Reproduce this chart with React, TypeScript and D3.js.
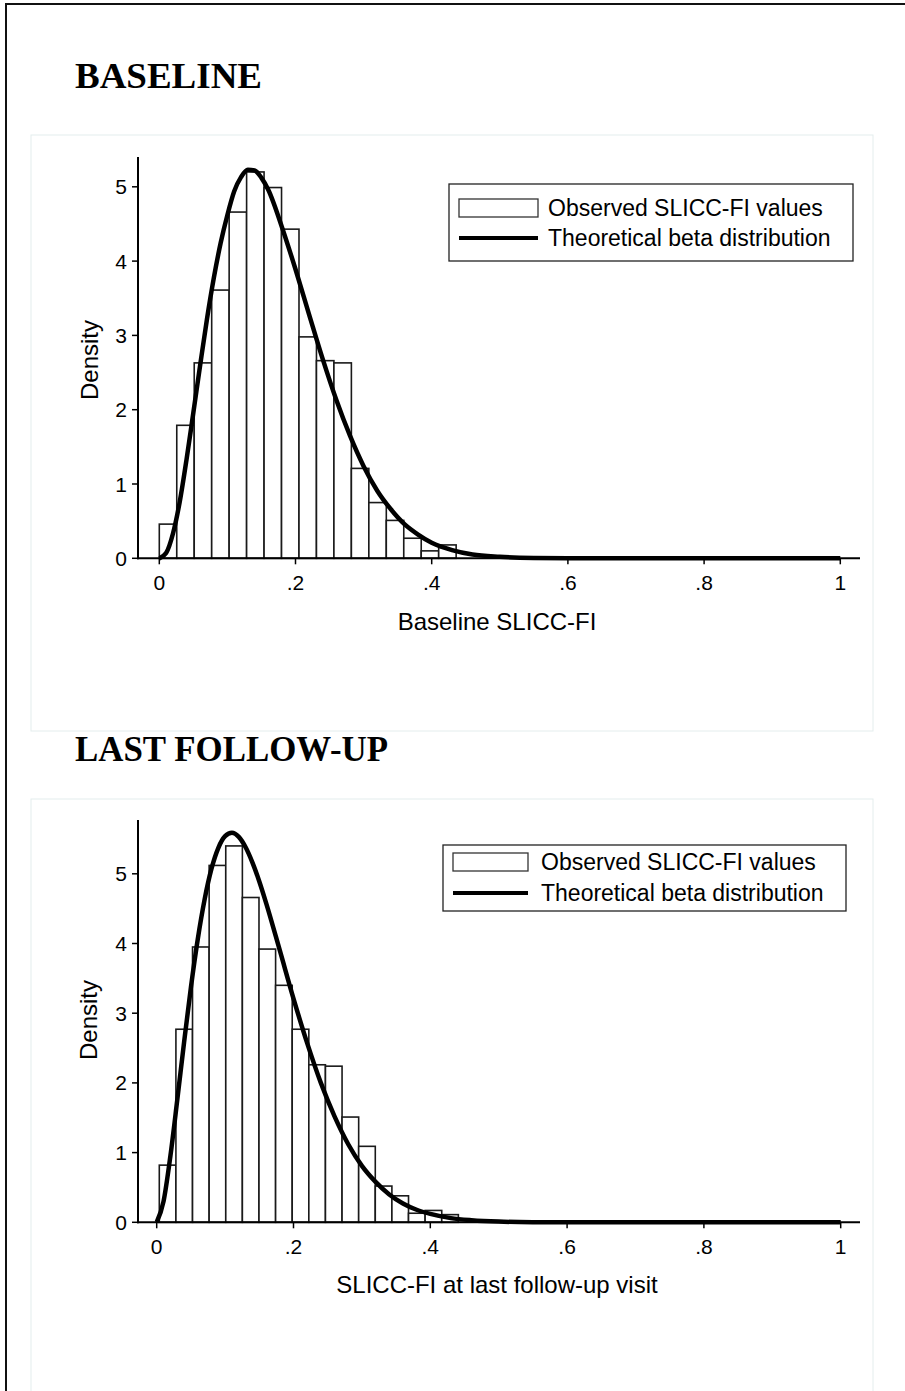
import React from "react";
import * as d3 from "d3";

// ---------- DATA ----------
const panelTitles = ["BASELINE", "LAST FOLLOW-UP"];
const xAxisTitles = ["Baseline SLICC-FI", "SLICC-FI at last follow-up visit"];
const yAxisTitle = "Density";
const legendLabels = ["Observed SLICC-FI values", "Theoretical beta distribution"];
const xTickValues = [0, 0.2, 0.4, 0.6, 0.8, 1];
const xTickLabels = ["0", ".2", ".4", ".6", ".8", "1"];
const yTickValues = [0, 1, 2, 3, 4, 5];

// Baseline histogram (density per bin)
const baselineBinStart = 0;
const baselineBinWidth = 1 / 39;
const baselineDensity = [0.46, 1.79, 2.63, 3.61, 4.66, 5.2, 4.99, 4.43, 2.98, 2.66, 2.63, 1.21, 0.75, 0.51, 0.27, 0.1, 0.18];

// Last follow-up histogram
const followupBinStart = 0.0038;
const followupBinWidth = 0.02429;
const followupDensity = [0.82, 2.77, 3.95, 5.12, 5.4, 4.66, 3.92, 3.4, 2.77, 2.26, 2.24, 1.51, 1.09, 0.52, 0.38, 0.13, 0.17, 0.11];

// Theoretical beta curves
const curveX = [0, 0.01, 0.02, 0.03, 0.04, 0.05, 0.06, 0.07, 0.08, 0.09, 0.1, 0.11, 0.12, 0.13, 0.14, 0.15, 0.16, 0.18, 0.2, 0.22, 0.24, 0.26, 0.28, 0.3, 0.32, 0.34, 0.36, 0.38, 0.4, 0.43, 0.46, 0.5, 0.55, 0.6, 0.7, 0.8, 0.9, 1.0];
const baselineCurveY = [0, 0.07, 0.33, 0.76, 1.33, 1.96, 2.6, 3.22, 3.77, 4.24, 4.62, 4.94, 5.13, 5.23, 5.22, 5.12, 4.96, 4.46, 3.89, 3.28, 2.68, 2.13, 1.65, 1.24, 0.91, 0.66, 0.46, 0.32, 0.21, 0.11, 0.05, 0.02, 0.005, 0.001, 0, 0, 0, 0];
const followupCurveY = [0, 0.3, 0.95, 1.75, 2.58, 3.37, 4.06, 4.63, 5.07, 5.37, 5.54, 5.59, 5.53, 5.38, 5.16, 4.89, 4.58, 3.9, 3.21, 2.57, 2.0, 1.52, 1.12, 0.81, 0.58, 0.4, 0.27, 0.18, 0.12, 0.06, 0.03, 0.01, 0.002, 0, 0, 0, 0, 0];

const SANS = "'Liberation Sans', Arial, Helvetica, sans-serif";
const SERIF = "'Liberation Serif', 'Times New Roman', serif";

type PanelCfg = {
  top: number;
  x0: number;
  x1: number;
  y0: number;
  y5: number;
  yAxisTop: number;
  binStart: number;
  binWidth: number;
  density: number[];
  curveY: number[];
  xTitle: string;
  xTitleY: number;
  yTitleY: number;
  yTitleX: number;
  legend: { x: number; y: number; w: number; h: number; sw: number; row1: number; row2: number; tx: number };
};

function Panel({ cfg }: { cfg: PanelCfg }) {
  const x = d3.scaleLinear().domain([0, 1]).range([cfg.x0, cfg.x1]);
  const y = d3.scaleLinear().domain([0, 5]).range([cfg.y0, cfg.y5]);
  const line = d3
    .line<number>()
    .x((_, i) => x(curveX[i]))
    .y((d) => y(d))
    .curve(d3.curveMonotoneX);
  const axisX = 138;
  const L = cfg.legend;
  return (
    <g>
      {cfg.density.map((d, i) => {
        const a = cfg.binStart + i * cfg.binWidth;
        const b = a + cfg.binWidth;
        return (
          <rect
            key={i}
            x={x(a)}
            y={y(d)}
            width={x(b) - x(a)}
            height={y(0) - y(d)}
            fill="#fff"
            stroke="#1a1a1a"
            strokeWidth={1.6}
          />
        );
      })}
      {/* axes */}
      <line x1={axisX} x2={axisX} y1={cfg.yAxisTop} y2={cfg.y0 + 1} stroke="#000" strokeWidth={2} />
      <line x1={axisX - 1} x2={860} y1={cfg.y0} y2={cfg.y0} stroke="#000" strokeWidth={2} />
      {yTickValues.map((t) => (
        <g key={"yt" + t}>
          <line x1={axisX - 6} x2={axisX} y1={y(t)} y2={y(t)} stroke="#000" strokeWidth={1.5} />
          <text x={axisX - 11} y={y(t)} dy="0.36em" textAnchor="end" fontFamily={SANS} fontSize={21} fill="#000">
            {t}
          </text>
        </g>
      ))}
      {xTickValues.map((t, i) => (
        <g key={"xt" + t}>
          <line x1={x(t)} x2={x(t)} y1={cfg.y0} y2={cfg.y0 + 6} stroke="#000" strokeWidth={1.5} />
          <text x={x(t)} y={cfg.y0 + 32} textAnchor="middle" fontFamily={SANS} fontSize={21} fill="#000">
            {xTickLabels[i]}
          </text>
        </g>
      ))}
      <path d={line(cfg.curveY) || ""} fill="none" stroke="#000" strokeWidth={4.5} strokeLinejoin="round" />
      <text x={497} y={cfg.xTitleY} textAnchor="middle" fontFamily={SANS} fontSize={24} fill="#000">
        {cfg.xTitle}
      </text>
      <text
        transform={`translate(${cfg.yTitleX},${cfg.yTitleY}) rotate(-90)`}
        textAnchor="middle"
        fontFamily={SANS}
        fontSize={24}
        fill="#000"
      >
        {yAxisTitle}
      </text>
      {/* legend */}
      <rect x={L.x} y={L.y} width={L.w} height={L.h} fill="#fff" stroke="#222" strokeWidth={1.3} />
      <rect x={L.x + 10} y={L.row1 - 9} width={L.sw} height={18} fill="#fff" stroke="#333" strokeWidth={1.3} />
      <line x1={L.x + 10} x2={L.x + 10 + L.sw} y1={L.row2} y2={L.row2} stroke="#000" strokeWidth={4} />
      <text x={L.tx} y={L.row1} dy="0.36em" fontFamily={SANS} fontSize={23} fill="#000">
        {legendLabels[0]}
      </text>
      <text x={L.tx} y={L.row2} dy="0.36em" fontFamily={SANS} fontSize={23} fill="#000">
        {legendLabels[1]}
      </text>
    </g>
  );
}

export default function App() {
  const top: PanelCfg = {
    top: 135,
    x0: 159.3,
    x1: 840.3,
    y0: 558.3,
    y5: 186.8,
    yAxisTop: 157,
    binStart: baselineBinStart,
    binWidth: baselineBinWidth,
    density: baselineDensity,
    curveY: baselineCurveY,
    xTitle: xAxisTitles[0],
    xTitleY: 630,
    yTitleY: 360,
    yTitleX: 98,
    legend: { x: 449, y: 184, w: 404, h: 77, sw: 79, row1: 208, row2: 238, tx: 548 },
  };
  const bottom: PanelCfg = {
    top: 799,
    x0: 156.7,
    x1: 840.7,
    y0: 1222.3,
    y5: 873.8,
    yAxisTop: 820,
    binStart: followupBinStart,
    binWidth: followupBinWidth,
    density: followupDensity,
    curveY: followupCurveY,
    xTitle: xAxisTitles[1],
    xTitleY: 1293,
    yTitleY: 1020,
    yTitleX: 97,
    legend: { x: 443, y: 845, w: 403, h: 66, sw: 75, row1: 862, row2: 893, tx: 541 },
  };
  return (
    <svg
      width={905}
      height={1391}
      viewBox="0 0 905 1391"
      style={{ position: "absolute", left: 0, top: 0, background: "#fff" }}
    >
      <rect x={0} y={0} width={905} height={1391} fill="#fff" />
      {/* outer frame */}
      <line x1={5} x2={905} y1={4} y2={4} stroke="#111" strokeWidth={2} />
      <line x1={6} x2={6} y1={4} y2={1391} stroke="#111" strokeWidth={2} />
      {/* panel frames */}
      <rect x={31} y={135} width={842} height={596} fill="#fff" stroke="#e4eded" strokeWidth={1} />
      <rect x={31} y={799} width={842} height={620} fill="#fff" stroke="#e4eded" strokeWidth={1} />
      <Panel cfg={top} />
      <Panel cfg={bottom} />
      <text x={75} y={88} fontFamily={SERIF} fontWeight="bold" fontSize={36} fill="#000" textLength={187} lengthAdjust="spacingAndGlyphs">
        {panelTitles[0]}
      </text>
      <text x={75} y={761} fontFamily={SERIF} fontWeight="bold" fontSize={36} fill="#000" textLength={313} lengthAdjust="spacingAndGlyphs">
        {panelTitles[1]}
      </text>
    </svg>
  );
}
